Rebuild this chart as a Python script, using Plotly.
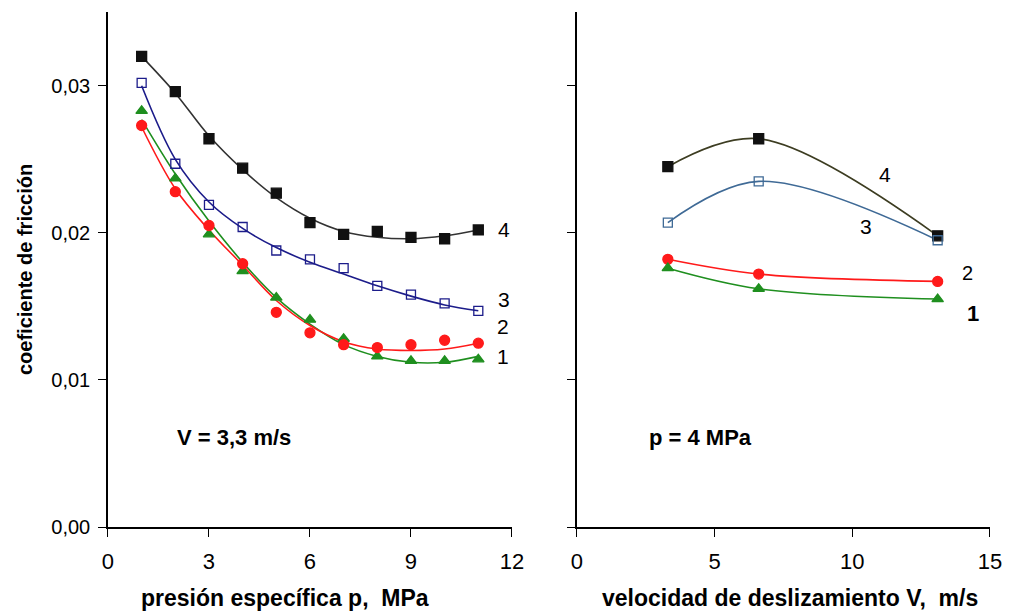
import plotly.graph_objects as go

# ---- Left panel data (V = 3,3 m/s) ----
p = [1, 2, 3, 4, 5, 6, 7, 8, 9, 10, 11]
s4_left = [0.0320, 0.0296, 0.0264, 0.0244, 0.0227, 0.0207, 0.0199, 0.0201, 0.0197, 0.0196, 0.0202]
s3_left = [0.0302, 0.0247, 0.0219, 0.0204, 0.0188, 0.0182, 0.0176, 0.0164, 0.0158, 0.0152, 0.0147]
s2_left = [0.0273, 0.0228, 0.0205, 0.0179, 0.0146, 0.0132, 0.0124, 0.0122, 0.0124, 0.0127, 0.0125]
s1_left = [0.0283, 0.0237, 0.0199, 0.0174, 0.0156, 0.0141, 0.0128, 0.0116, 0.0113, 0.0113, 0.0114]

# fitted trend curves at the same p values
c4_left = [0.0320, 0.0295, 0.0266, 0.0243, 0.0224, 0.0210, 0.0201, 0.0197, 0.0196, 0.0198, 0.0202]
c3_left = [0.0300, 0.0250, 0.0221, 0.0203, 0.0190, 0.0180, 0.0172, 0.0164, 0.0157, 0.0151, 0.0147]
c2_left = [0.0272, 0.0230, 0.0202, 0.0178, 0.0154, 0.0137, 0.0126, 0.0121, 0.0120, 0.0121, 0.0125]
c1_left = [0.0277, 0.0240, 0.0208, 0.0180, 0.0156, 0.0138, 0.0124, 0.0116, 0.0112, 0.0112, 0.0116]

# ---- Right panel data (p = 4 MPa) ----
V = [3.3, 6.6, 13.1]
s4_right = [0.0245, 0.0264, 0.0198]
s3_right = [0.0207, 0.0235, 0.0195]
s2_right = [0.0182, 0.0172, 0.0167]
s1_right = [0.0176, 0.0162, 0.0155]

x_left_ticks = [0, 3, 6, 9, 12]
x_right_ticks = [0, 5, 10, 15]
y_ticks = [0.0, 0.01, 0.02, 0.03]

BLACK = "#111111"
BLUE = "#1c1c8a"
RED = "#ff1a1a"
GREEN = "#1f8f1f"
OLIVE = "#3d3d22"
STEEL = "#3f6a96"

fig = go.Figure()

def curve(x, y, color, xa, ya, width=1.6):
    fig.add_trace(go.Scatter(x=x, y=y, mode="lines", line=dict(color=color, width=width, shape="spline", smoothing=1.0),
                             xaxis=xa, yaxis=ya, showlegend=False, hoverinfo="skip"))

def marks(x, y, color, symbol, size, xa, ya):
    fig.add_trace(go.Scatter(x=x, y=y, mode="markers",
                             marker=dict(color=color, symbol=symbol, size=size,
                                         line=dict(color=color, width=1.3)),
                             xaxis=xa, yaxis=ya, showlegend=False))

# left panel
curve(p, c4_left, "#333333", "x", "y")
curve(p, c3_left, BLUE, "x", "y")
curve(p, c1_left, GREEN, "x", "y")
curve(p, c2_left, RED, "x", "y")
marks(p, s4_left, BLACK, "square", 10, "x", "y")
marks(p, s3_left, BLUE, "square-open", 9, "x", "y")
marks(p, s1_left, GREEN, "triangle-up", 10, "x", "y")
marks(p, s2_left, RED, "circle", 10, "x", "y")

# right panel
curve(V, s4_right, OLIVE, "x2", "y2")
curve(V, s3_right, STEEL, "x2", "y2")
curve(V, s2_right, RED, "x2", "y2")
curve(V, s1_right, GREEN, "x2", "y2")
marks(V, s4_right, BLACK, "square", 10, "x2", "y2")
marks(V, s3_right, STEEL, "square-open", 9, "x2", "y2")
marks(V, s2_right, RED, "circle", 10, "x2", "y2")
marks(V, s1_right, GREEN, "triangle-up", 10, "x2", "y2")

FONT = "Liberation Sans, Arial, sans-serif"
axis_common = dict(showline=True, linecolor="black", linewidth=1.5, showgrid=False, zeroline=False,
                   ticks="outside", ticklen=8, tickcolor="black", tickwidth=1.3, automargin=False)
xtickfont = dict(family=FONT, size=22, color="black")
ytickfont = dict(family=FONT, size=20, color="black")

fig.update_layout(
    width=1011, height=614,
    margin=dict(l=0, r=0, t=0, b=0, autoexpand=False),
    plot_bgcolor="white", paper_bgcolor="white",
    separators=",.",
    font=dict(family=FONT, color="black"),
    xaxis=dict(domain=[0.1068, 0.5064], range=[0, 12], tickvals=x_left_ticks, anchor="y",
               tickfont=xtickfont, ticklabelstandoff=6, **axis_common),
    yaxis=dict(domain=[0.1417, 0.98], range=[0, 0.035], tickvals=y_ticks, tickformat=".2f", anchor="x",
               tickfont=ytickfont, ticklabelstandoff=4, **axis_common),
    xaxis2=dict(domain=[0.5707, 0.9792], range=[0, 15], tickvals=x_right_ticks, anchor="y2",
                tickfont=xtickfont, ticklabelstandoff=6, **axis_common),
    yaxis2=dict(domain=[0.1417, 0.98], range=[0, 0.035], tickvals=y_ticks, showticklabels=False, anchor="x2",
                **axis_common),
)

def label(text, x, y, xref, yref, size=21, bold=False, angle=0):
    fig.add_annotation(text=f"<b>{text}</b>" if bold else text, x=x, y=y, xref=xref, yref=yref,
                       showarrow=False, font=dict(family=FONT, size=size, color="black"),
                       xanchor="center", yanchor="middle", textangle=angle)

# axis titles
label("presión específica p,  MPa", 285 / 1011, 1 - 598 / 614, "paper", "paper", size=23, bold=True)
label("velocidad de deslizamiento V,  m/s", 790 / 1011, 1 - 598 / 614, "paper", "paper", size=23, bold=True)
label("coeficiente de fricción", 25 / 1011, 1 - 270 / 614, "paper", "paper", size=20, bold=True, angle=-90)

# curve labels left
label("4", 11.75, 0.0202, "x", "y")
label("3", 11.75, 0.0155, "x", "y")
label("2", 11.72, 0.0136, "x", "y")
label("1", 11.72, 0.0116, "x", "y")
# curve labels right
label("4", 11.2, 0.0240, "x2", "y2")
label("3", 10.5, 0.0204, "x2", "y2")
label("2", 14.2, 0.0173, "x2", "y2", size=20)
label("1", 14.4, 0.0145, "x2", "y2", size=22, bold=True)

label("V = 3,3 m/s", 3.75, 0.0061, "x", "y", size=22, bold=True)
label("p = 4 MPa", 4.5, 0.0061, "x2", "y2", size=22, bold=True)

fig.write_html("out.html")
